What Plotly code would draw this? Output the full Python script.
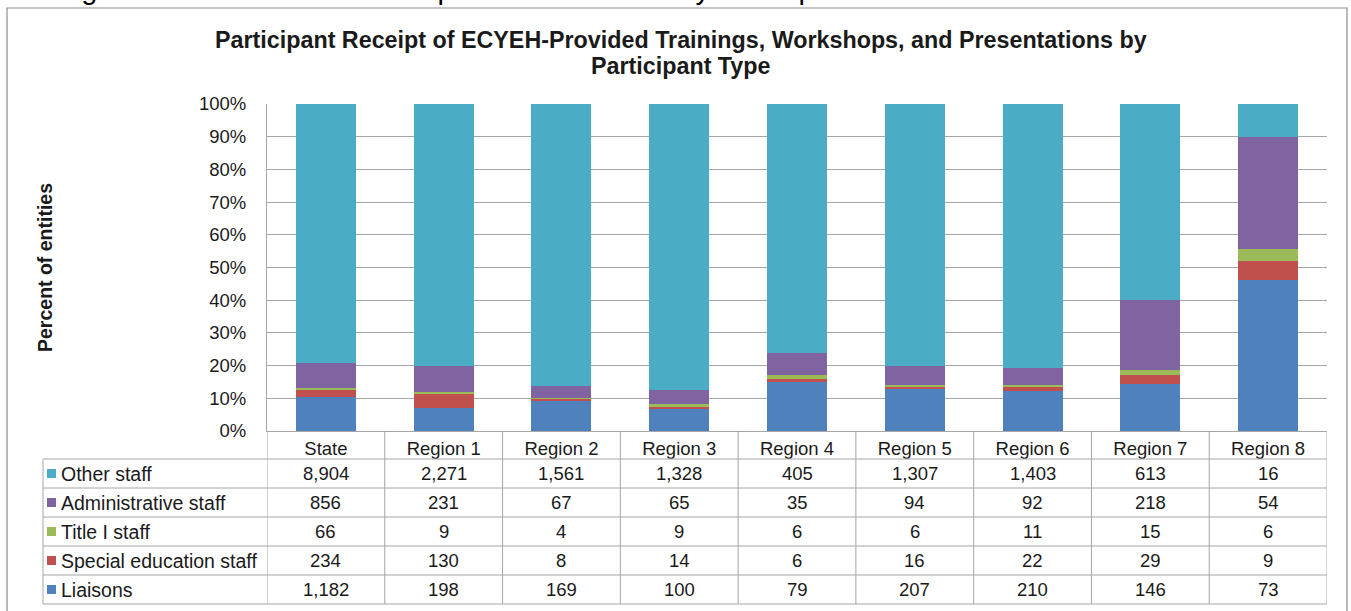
import plotly.graph_objects as go

categories = ["State", "Region 1", "Region 2", "Region 3", "Region 4",
              "Region 5", "Region 6", "Region 7", "Region 8"]
liaisons = [1182, 198, 169, 100, 79, 207, 210, 146, 73]
special_ed = [234, 130, 8, 14, 6, 16, 22, 29, 9]
title_i = [66, 9, 4, 9, 6, 6, 11, 15, 6]
admin = [856, 231, 67, 65, 35, 94, 92, 218, 54]
other = [8904, 2271, 1561, 1328, 405, 1307, 1403, 613, 16]

# bottom-to-top stacking order
series = [
    ("Liaisons", liaisons, "#4F81BD"),
    ("Special education staff", special_ed, "#C0504D"),
    ("Title I staff", title_i, "#9BBB59"),
    ("Administrative staff", admin, "#8064A2"),
    ("Other staff", other, "#4BACC6"),
]
# table row order (top to bottom)
table_rows = [series[4], series[3], series[2], series[1], series[0]]

W, H = 1351, 611
L, R, T, B = 267, 24, 104, 180
PW = W - L - R
PH = H - T - B


def px(xp):
    return (xp - L) / PW


def py(yp):
    return (H - B - yp) / PH


FONT = "Arial, Liberation Sans, sans-serif"
GRID = "#A6A6A6"
TXT = "#1a1a1a"
FS = 18.5

fig = go.Figure()
for name, vals, col in series:
    fig.add_trace(go.Bar(x=categories, y=vals, name=name, marker_color=col,
                         marker_line_width=0, width=0.51, showlegend=False))

shapes = []
annotations = []

# outer border
shapes.append(dict(type="rect", xref="paper", yref="paper",
                   x0=px(7), x1=px(1347), y0=py(8), y1=py(625),
                   line=dict(color="#8C8C8C", width=1.2), fillcolor="rgba(0,0,0,0)", layer="below"))

# table lines
row_top = 459
row_h = 29
n_rows = len(table_rows)
bottom_y = row_top + row_h * n_rows
for k in range(n_rows + 1):
    yp = row_top + row_h * k
    shapes.append(dict(type="line", xref="paper", yref="paper",
                       x0=px(43), x1=1, y0=py(yp), y1=py(yp),
                       line=dict(color=GRID, width=1)))
# left border of label column
shapes.append(dict(type="line", xref="paper", yref="paper",
                   x0=px(43), x1=px(43), y0=py(row_top), y1=py(bottom_y),
                   line=dict(color=GRID, width=1)))
# vertical category boundaries
for k in range(len(categories) + 1):
    shapes.append(dict(type="line", xref="x", yref="paper",
                       x0=k - 0.5, x1=k - 0.5, y0=0, y1=py(bottom_y),
                       line=dict(color=GRID, width=1)))

# table text
for r, (name, vals, col) in enumerate(table_rows):
    ycp = row_top + row_h * r + row_h / 2
    yc = py(ycp)
    # legend key square
    shapes.append(dict(type="rect", xref="paper", yref="paper",
                       x0=px(47), x1=px(56), y0=py(ycp - 4.5), y1=py(ycp + 4.5),
                       line=dict(width=0), fillcolor=col))
    annotations.append(dict(
        xref="paper", yref="paper", x=px(59), y=yc, xanchor="left", yanchor="middle",
        text=name, showarrow=False, font=dict(family=FONT, size=19.5, color=TXT)))
    for i, v in enumerate(vals):
        annotations.append(dict(
            xref="x", yref="paper", x=categories[i], y=yc, xanchor="center", yanchor="middle",
            text=f"{v:,}", showarrow=False, font=dict(family=FONT, size=FS, color=TXT)))

# chart title (two lines)
annotations.append(dict(
    xref="paper", yref="paper", x=px(681), y=py(40), xanchor="center", yanchor="middle",
    text="<b>Participant Receipt of ECYEH-Provided Trainings, Workshops, and Presentations by</b>",
    showarrow=False, font=dict(family=FONT, size=23.3, color=TXT)))
annotations.append(dict(
    xref="paper", yref="paper", x=px(681), y=py(66), xanchor="center", yanchor="middle",
    text="<b>Participant Type</b>",
    showarrow=False, font=dict(family=FONT, size=23.3, color=TXT)))

# cut-off figure caption at the very top
annotations.append(dict(
    xref="paper", yref="paper", x=px(55), y=py(-11), xanchor="left", yanchor="middle",
    text="Figure 3. Professional Development Attendance by Participant Role",
    showarrow=False, font=dict(family=FONT, size=29, color="#000000")))

# y axis title
annotations.append(dict(
    xref="paper", yref="paper", x=px(45), y=py(268), xanchor="center", yanchor="middle",
    text="<b>Percent of entities</b>", textangle=-90,
    showarrow=False, font=dict(family=FONT, size=19.5, color=TXT)))

fig.update_layout(
    width=W, height=H,
    margin=dict(l=L, r=R, t=T, b=B, pad=0),
    barmode="stack", barnorm="percent",
    paper_bgcolor="white", plot_bgcolor="white",
    shapes=shapes, annotations=annotations,
    font=dict(family=FONT, size=FS, color=TXT),
)
fig.update_xaxes(type="category", range=[-0.5, len(categories) - 0.5],
                 showline=True, linecolor=GRID, linewidth=1, showgrid=False,
                 ticks="", tickfont=dict(family=FONT, size=FS, color=TXT),
                 ticklabelstandoff=1)
fig.update_yaxes(range=[0, 100], dtick=10, ticksuffix="%", showgrid=True,
                 gridcolor=GRID, gridwidth=1, showline=True, linecolor=GRID,
                 linewidth=1, ticks="", zeroline=False,
                 tickfont=dict(family=FONT, size=FS, color=TXT),
                 ticklabelstandoff=16)

fig.write_html("out.html", config={"displayModeBar": False},
               post_script="document.body.style.margin='0';document.body.style.padding='0';")
